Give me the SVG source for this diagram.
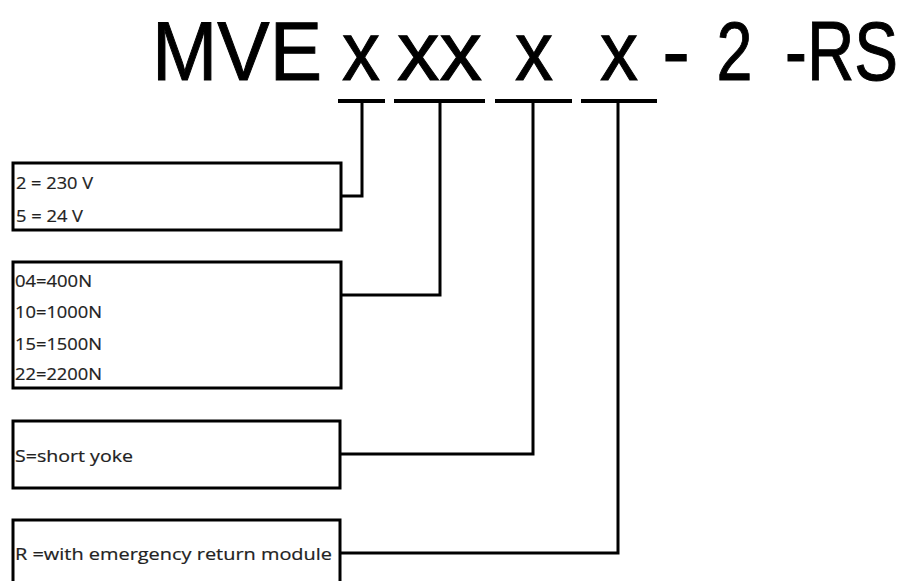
<svg xmlns="http://www.w3.org/2000/svg" width="912" height="581" viewBox="0 0 912 581">
<style>
.title{font-family:"Liberation Sans",Arial,sans-serif;font-size:83px;fill:#000;stroke:#000;stroke-width:1;text-anchor:middle}
.lbl{font-family:"Open Sans","Liberation Sans",sans-serif;font-size:17px;fill:#222;stroke:#222;stroke-width:0.2}
.box{fill:#fff;stroke:#000;stroke-width:3}
.bar{stroke:#000;stroke-width:4;fill:none}
.con{stroke:#000;stroke-width:3;fill:none;stroke-linejoin:miter}
</style>
<rect width="912" height="581" fill="#fff"/>
<g id="title">
<text class="title" x="237" y="80" textLength="170" lengthAdjust="spacingAndGlyphs">MVE</text>
<text class="title" x="361" y="80" textLength="38" lengthAdjust="spacingAndGlyphs">x</text>
<text class="title" x="439.5" y="80" textLength="85" lengthAdjust="spacingAndGlyphs">xx</text>
<text class="title" x="534" y="80" textLength="38" lengthAdjust="spacingAndGlyphs">x</text>
<text class="title" x="619" y="80" textLength="38" lengthAdjust="spacingAndGlyphs">x</text>
<text class="title" x="676" y="80">-</text>
<text class="title" x="734.5" y="80" textLength="36" lengthAdjust="spacingAndGlyphs">2</text>
<text class="title" transform="translate(898,80) scale(0.79,1)" x="0" y="0" style="text-anchor:end">-RS</text>
</g>
<g id="connectors">
<line class="bar" x1="338" y1="101" x2="385" y2="101"/>
<line class="bar" x1="394" y1="101" x2="485" y2="101"/>
<line class="bar" x1="495" y1="101" x2="572" y2="101"/>
<line class="bar" x1="581" y1="101" x2="657" y2="101"/>
<polyline class="con" points="362,101 362,196 341,196"/>
<polyline class="con" points="440,101 440,295 341,295"/>
<polyline class="con" points="533,101 533,454 340,454"/>
<polyline class="con" points="618,101 618,553 340,553"/>
</g>
<g id="node-voltage">
<rect class="box" x="13" y="163" width="328" height="67"/>
<text class="lbl" x="16" y="189" textLength="77" lengthAdjust="spacingAndGlyphs">2 = 230 V</text>
<text class="lbl" x="16" y="222" textLength="67" lengthAdjust="spacingAndGlyphs">5 = 24 V</text>
</g>
<g id="node-force">
<rect class="box" x="13" y="262" width="328" height="126"/>
<text class="lbl" x="15" y="287" textLength="77" lengthAdjust="spacingAndGlyphs">04=400N</text>
<text class="lbl" x="15" y="318" textLength="87" lengthAdjust="spacingAndGlyphs">10=1000N</text>
<text class="lbl" x="15" y="350" textLength="87" lengthAdjust="spacingAndGlyphs">15=1500N</text>
<text class="lbl" x="15" y="380" textLength="87" lengthAdjust="spacingAndGlyphs">22=2200N</text>
</g>
<g id="node-yoke">
<rect class="box" x="13" y="421" width="327" height="67"/>
<text class="lbl" x="15" y="462" textLength="118" lengthAdjust="spacingAndGlyphs">S=short yoke</text>
</g>
<g id="node-return">
<rect class="box" x="13" y="520" width="327" height="80"/>
<text class="lbl" x="15" y="560" textLength="317" lengthAdjust="spacingAndGlyphs">R =with emergency return module</text>
</g>
</svg>
